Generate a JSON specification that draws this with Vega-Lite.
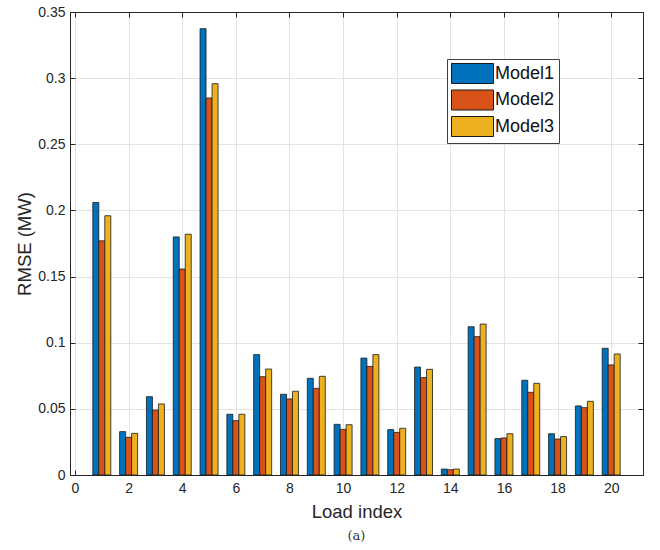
{
  "$schema": "https://vega.github.io/schema/vega-lite/v6.json",
  "width": 573,
  "height": 463,
  "autosize": {"type": "none"},
  "padding": {"left": 70, "top": 12, "right": 17, "bottom": 75},
  "background": "white",
  "title": {"text": "(a)", "orient": "bottom", "font": "DejaVu Serif", "fontSize": 13, "fontWeight": "normal", "color": "#333", "offset": 9},
  "config": {
    "view": {"stroke": "#262626", "strokeWidth": 1},
    "font": "Liberation Sans",
    "axis": {"labelFont": "Liberation Sans", "titleFont": "Liberation Sans", "labelColor": "#262626", "titleColor": "#262626", "labelFontSize": 14, "titleFontSize": 18.5, "titleFontWeight": "normal", "domainColor": "#262626", "tickColor": "#262626", "gridColor": "#e3e3e3", "gridWidth": 1}
  },
  "data": {"values": [
    {"index": 1, "model": "Model1", "rmse": 0.206}, {"index": 1, "model": "Model2", "rmse": 0.177}, {"index": 1, "model": "Model3", "rmse": 0.196},
    {"index": 2, "model": "Model1", "rmse": 0.0328}, {"index": 2, "model": "Model2", "rmse": 0.0285}, {"index": 2, "model": "Model3", "rmse": 0.0315},
    {"index": 3, "model": "Model1", "rmse": 0.0592}, {"index": 3, "model": "Model2", "rmse": 0.0491}, {"index": 3, "model": "Model3", "rmse": 0.0537},
    {"index": 4, "model": "Model1", "rmse": 0.180}, {"index": 4, "model": "Model2", "rmse": 0.1557}, {"index": 4, "model": "Model3", "rmse": 0.182},
    {"index": 5, "model": "Model1", "rmse": 0.3374}, {"index": 5, "model": "Model2", "rmse": 0.285}, {"index": 5, "model": "Model3", "rmse": 0.2958},
    {"index": 6, "model": "Model1", "rmse": 0.0459}, {"index": 6, "model": "Model2", "rmse": 0.0411}, {"index": 6, "model": "Model3", "rmse": 0.0459},
    {"index": 7, "model": "Model1", "rmse": 0.091}, {"index": 7, "model": "Model2", "rmse": 0.0743}, {"index": 7, "model": "Model3", "rmse": 0.0801},
    {"index": 8, "model": "Model1", "rmse": 0.061}, {"index": 8, "model": "Model2", "rmse": 0.0575}, {"index": 8, "model": "Model3", "rmse": 0.0633},
    {"index": 9, "model": "Model1", "rmse": 0.0731}, {"index": 9, "model": "Model2", "rmse": 0.0655}, {"index": 9, "model": "Model3", "rmse": 0.0746},
    {"index": 10, "model": "Model1", "rmse": 0.0383}, {"index": 10, "model": "Model2", "rmse": 0.0345}, {"index": 10, "model": "Model3", "rmse": 0.038},
    {"index": 11, "model": "Model1", "rmse": 0.0884}, {"index": 11, "model": "Model2", "rmse": 0.0821}, {"index": 11, "model": "Model3", "rmse": 0.091},
    {"index": 12, "model": "Model1", "rmse": 0.0343}, {"index": 12, "model": "Model2", "rmse": 0.0322}, {"index": 12, "model": "Model3", "rmse": 0.0353},
    {"index": 13, "model": "Model1", "rmse": 0.0816}, {"index": 13, "model": "Model2", "rmse": 0.0736}, {"index": 13, "model": "Model3", "rmse": 0.0799},
    {"index": 14, "model": "Model1", "rmse": 0.0045}, {"index": 14, "model": "Model2", "rmse": 0.004}, {"index": 14, "model": "Model3", "rmse": 0.0045},
    {"index": 15, "model": "Model1", "rmse": 0.1121}, {"index": 15, "model": "Model2", "rmse": 0.1046}, {"index": 15, "model": "Model3", "rmse": 0.1141},
    {"index": 16, "model": "Model1", "rmse": 0.0275}, {"index": 16, "model": "Model2", "rmse": 0.028}, {"index": 16, "model": "Model3", "rmse": 0.0312},
    {"index": 17, "model": "Model1", "rmse": 0.0716}, {"index": 17, "model": "Model2", "rmse": 0.0625}, {"index": 17, "model": "Model3", "rmse": 0.0693},
    {"index": 18, "model": "Model1", "rmse": 0.0312}, {"index": 18, "model": "Model2", "rmse": 0.0272}, {"index": 18, "model": "Model3", "rmse": 0.029},
    {"index": 19, "model": "Model1", "rmse": 0.0522}, {"index": 19, "model": "Model2", "rmse": 0.0509}, {"index": 19, "model": "Model3", "rmse": 0.0557},
    {"index": 20, "model": "Model1", "rmse": 0.0958}, {"index": 20, "model": "Model2", "rmse": 0.0832}, {"index": 20, "model": "Model3", "rmse": 0.0915}
  ]},
  "encoding": {
    "x": {"field": "index", "type": "quantitative", "scale": {"domain": [0, 21], "nice": false, "zero": false}},
    "y": {"field": "rmse", "type": "quantitative", "stack": null, "scale": {"domain": [0, 0.35], "nice": false}},
    "color": {"field": "model", "type": "nominal", "scale": {"domain": ["Model1", "Model2", "Model3"], "range": ["#0072BD", "#D95319", "#EDB120"]},
      "legend": {"title": null, "orient": "none", "legendX": 377, "legendY": 47, "strokeColor": "#404040", "fillColor": "white", "padding": 4,
        "symbolType": "M-2.1,-1H2.1V1H-2.1Z", "symbolSize": 400, "symbolOffset": 11, "symbolStrokeColor": "#1a1a1a", "symbolStrokeWidth": 1, "symbolOpacity": 1,
        "labelFont": "Liberation Sans", "labelFontSize": 18, "labelColor": "#111", "labelOffset": 12, "rowPadding": 1.5}}
  },
  "resolve": {"axis": {"x": "independent", "y": "independent"}},
  "layer": [
    {
      "layer": [
        {
          "transform": [{"filter": "datum.model === 'Model1'"}],
          "mark": {"type": "bar", "width": 6, "xOffset": -6, "stroke": "#1a1a1a", "strokeWidth": 0.8}
        },
        {
          "transform": [{"filter": "datum.model === 'Model2'"}],
          "mark": {"type": "bar", "width": 6, "xOffset": 0, "stroke": "#1a1a1a", "strokeWidth": 0.8}
        },
        {
          "transform": [{"filter": "datum.model === 'Model3'"}],
          "mark": {"type": "bar", "width": 6, "xOffset": 6, "stroke": "#1a1a1a", "strokeWidth": 0.8}
        }
      ],
      "encoding": {
        "x": {"field": "index", "type": "quantitative",
          "axis": {"values": [0, 2, 4, 6, 8, 10, 12, 14, 16, 18, 20], "format": "d", "title": "Load index", "tickSize": -5, "labelPadding": 11, "titlePadding": 7, "labelFlush": false}},
        "y": {"field": "rmse", "type": "quantitative",
          "axis": {"values": [0, 0.05, 0.1, 0.15, 0.2, 0.25, 0.3, 0.35], "format": ".2~f", "title": "RMSE (MW)", "tickSize": -5, "labelPadding": 10, "titlePadding": 3, "labelFlush": false}}
      }
    },
    {
      "mark": {"type": "point", "opacity": 0},
      "encoding": {
        "color": {"value": "white"},
        "x": {"field": "index", "type": "quantitative", "axis": {"orient": "top", "values": [0, 2, 4, 6, 8, 10, 12, 14, 16, 18, 20], "labels": false, "title": null, "grid": false, "tickSize": -5}},
        "y": {"field": "rmse", "type": "quantitative", "axis": {"orient": "right", "values": [0, 0.05, 0.1, 0.15, 0.2, 0.25, 0.3, 0.35], "labels": false, "title": null, "grid": false, "tickSize": -5}}
      }
    }
  ]
}
